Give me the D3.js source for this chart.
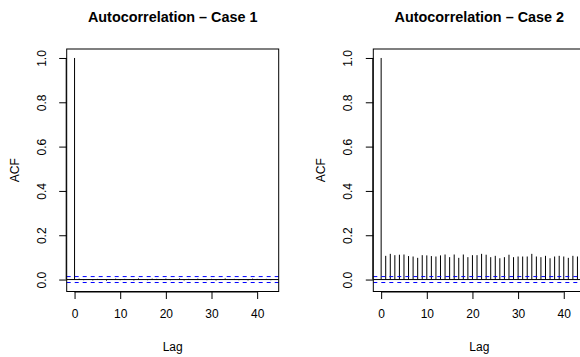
<!DOCTYPE html>
<html><head><meta charset="utf-8">
<script src="https://cdn.jsdelivr.net/npm/d3@7"></script>
<style>
body{margin:0;background:#fff;}
svg{display:block;font-family:"Liberation Sans",Arial,Helvetica,sans-serif;}
</style></head><body>
<svg id="c" width="580" height="357"></svg>
<script>
const titles = ["Autocorrelation \u2013 Case 1", "Autocorrelation \u2013 Case 2"];
const lags = d3.range(0, 44);
const acfCase1 = [1.0, 0.004, -0.003, 0.002, -0.004, 0.003, -0.002, -0.005, 0.002, 0.004, -0.003,
  0.003, -0.002, -0.004, 0.005, 0.002, -0.003, 0.004, 0.003, -0.002, 0.004, -0.003,
  0.002, 0.005, -0.004, 0.003, -0.002, 0.004, 0.002, -0.003, 0.003, -0.004, 0.002,
  0.005, -0.002, 0.003, -0.003, 0.002, -0.004, 0.004, 0.003, -0.002, 0.003, -0.003];
const acfCase2 = [1.0, 0.107, 0.116, 0.110, 0.112, 0.113, 0.106, 0.104, 0.098, 0.110, 0.109,
  0.106, 0.104, 0.109, 0.113, 0.101, 0.113, 0.098, 0.113, 0.101, 0.110, 0.110,
  0.116, 0.112, 0.101, 0.107, 0.096, 0.101, 0.112, 0.101, 0.104, 0.104, 0.104,
  0.116, 0.104, 0.101, 0.107, 0.096, 0.104, 0.107, 0.104, 0.098, 0.107, 0.104];
const confLimit = 0.0134;
const xTicks = [0, 10, 20, 30, 40];
const yTicks = [0, 0.2, 0.4, 0.6, 0.8, 1.0];
const xLabel = "Lag", yLabel = "ACF";

const svg = d3.select("#c");
const panels = [
  {title: titles[0], acf: acfCase1, left: 66.7},
  {title: titles[1], acf: acfCase2, left: 373.3}
];
const plotW = 212, plotTop = 49, plotBottom = 291.5;

panels.forEach(p => {
  const xmin = d3.min(lags), xmax = d3.max(lags);
  const xpad = (xmax - xmin) * 0.04;
  const x = d3.scaleLinear().domain([xmin - xpad, xmax + xpad]).range([p.left, p.left + plotW]);
  const ylo = Math.min(d3.min(p.acf), -confLimit), yhi = Math.max(d3.max(p.acf), confLimit);
  const ypad = (yhi - ylo) * 0.04;
  const y = d3.scaleLinear().domain([ylo - ypad, yhi + ypad]).range([plotBottom, plotTop]);
  const g = svg.append("g");

  // bars
  g.selectAll("line.bar").data(lags).enter().append("line")
    .attr("class", "bar")
    .attr("x1", d => x(d)).attr("x2", d => x(d))
    .attr("y1", y(0)).attr("y2", (d, i) => y(p.acf[i]))
    .attr("stroke", "#000").attr("stroke-width", 1);

  // zero line
  g.append("line").attr("x1", x.range()[0]).attr("x2", x.range()[1])
    .attr("y1", y(0)).attr("y2", y(0)).attr("stroke", "#000").attr("stroke-width", 1);
  // confidence limits
  [confLimit, -confLimit].forEach(c => {
    g.append("line").attr("x1", x.range()[0]).attr("x2", x.range()[1])
      .attr("y1", y(c)).attr("y2", y(c)).attr("stroke", "#0000ff")
      .attr("stroke-width", 1).attr("stroke-dasharray", "4,4");
  });

  // box
  g.append("rect").attr("x", p.left).attr("y", plotTop).attr("width", plotW).attr("height", plotBottom - plotTop)
    .attr("fill", "none").attr("stroke", "#000").attr("stroke-width", 1);

  // x axis
  const xa = g.append("g").attr("transform", `translate(0,${plotBottom})`)
    .call(d3.axisBottom(x).tickValues(xTicks).tickSize(7.5).tickPadding(10).tickFormat(d3.format("d")));
  xa.select(".domain").attr("d", `M${x(xTicks[0])},0.5H${x(xTicks[xTicks.length-1])}`);
  xa.selectAll("text").attr("font-size", 12).attr("font-family", "Liberation Sans, Arial, sans-serif").attr("fill", "#000");

  // y axis
  const ya = g.append("g").attr("transform", `translate(${p.left},0)`)
    .call(d3.axisLeft(y).tickValues(yTicks).tickSize(7.5).tickFormat(d3.format(".1f")));
  ya.select(".domain").attr("d", `M-0.5,${y(yTicks[0])}V${y(yTicks[yTicks.length-1])}`);
  ya.selectAll(".tick text").attr("font-size", 12).attr("font-family", "Liberation Sans, Arial, sans-serif")
    .attr("fill", "#000").attr("text-anchor", "middle").attr("x", null).attr("dy", null)
    .attr("transform", "translate(-21,0) rotate(-90)")
    .attr("y", 0);

  // titles and labels
  g.append("text").attr("x", p.left + plotW / 2).attr("y", 22).attr("text-anchor", "middle")
    .attr("font-size", 14.4).attr("font-weight", "bold").text(p.title);
  g.append("text").attr("x", p.left + plotW / 2).attr("y", 351).attr("text-anchor", "middle")
    .attr("font-size", 12).text(xLabel);
  g.append("text").attr("transform", `translate(${p.left - 48},${(plotTop + plotBottom) / 2}) rotate(-90)`)
    .attr("text-anchor", "middle").attr("font-size", 12).text(yLabel);
});
</script></body></html>
